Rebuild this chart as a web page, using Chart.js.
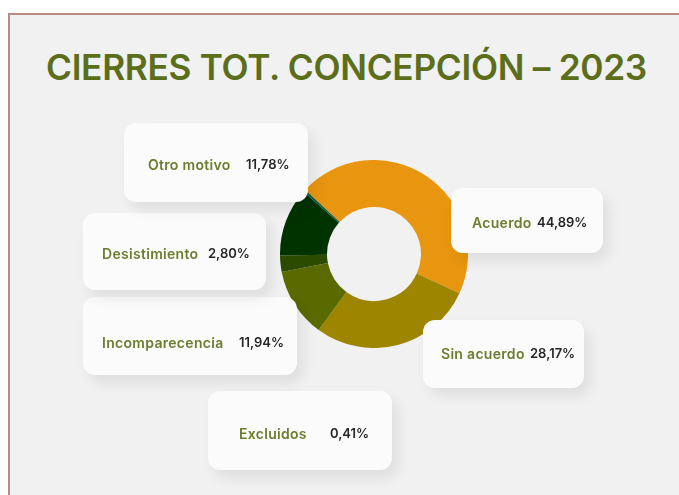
<!DOCTYPE html>
<html>
<head>
<meta charset="utf-8">
<script src="https://cdn.jsdelivr.net/npm/chart.js@4"></script>
<style>
  html,body{margin:0;padding:0;width:679px;height:495px;overflow:hidden;background:#fff;}
  #panel{position:absolute;left:8px;top:13px;width:700px;height:520px;background:#f1f1f1;border:2.5px solid #b98a80;box-sizing:border-box;}
  #title{position:absolute;left:46px;top:46px;font-family:Inter,Roboto,sans-serif;font-weight:600;font-size:35px;color:#5d6e1b;white-space:nowrap;transform-origin:0 0;letter-spacing:-0.3px;}
  #wrap{position:absolute;left:279.5px;top:160px;width:188px;height:188px;}
  .box{position:absolute;background:#fbfbfb;border-radius:12px;box-shadow:6px 8px 14px rgba(0,0,0,0.08);}
  .lab,.val{position:absolute;font-family:Inter,"DejaVu Sans",sans-serif;font-weight:600;white-space:nowrap;transform:translateY(-50%);}
  .lab{color:#6c7d2e;font-size:14px;letter-spacing:0.3px;}
  .val{color:#262626;font-size:13px;}
</style>
</head>
<body>
<div id="panel"></div>
<div id="title">CIERRES TOT. CONCEPCIÓN – 2023</div>
<div id="wrap"><canvas id="c"></canvas></div>
<div id="boxes"></div>
<script>
const categories = ["Acuerdo","Sin acuerdo","Incomparecencia","Desistimiento","Otro motivo","Excluidos"];
const values = [44.89, 28.17, 11.94, 2.80, 11.78, 0.41];
const colors = ["#e8960f","#9d8500","#5a6900","#2b4b00","#003300","#0e5a44"];

// label box layout: [left, top, width, height, labelX, valueX, textY] (page px)
const boxLayout = [
  [451,188,152,65, 472,537,222],
  [423,320,161,68, 441,530,353],
  [83,297,214,78, 102,239,342],
  [83,213,183,77, 102,208,253],
  [124,123,184,79, 148,246,164],
  [208,391,184,79, 239,330,433]
];

// fit title width
const t = document.getElementById('title');
const tw = t.getBoundingClientRect().width;
t.style.transform = 'scaleX(' + (601/tw) + ')';

new Chart(document.getElementById('c'), {
  type: 'doughnut',
  data: { labels: categories, datasets: [{ data: values, backgroundColor: colors, borderWidth: 0 }] },
  options: {
    responsive: true, maintainAspectRatio: false, animation: false,
    cutout: '50%', rotation: -47,
    layout: { padding: 0 },
    plugins: { legend: { display: false }, tooltip: { enabled: false } }
  }
});

const boxes = document.getElementById('boxes');
categories.forEach((c, i) => {
  const [l, tp, w, h, lx, vx, ty] = boxLayout[i];
  const b = document.createElement('div');
  b.className = 'box';
  b.style.cssText = `left:${l}px;top:${tp}px;width:${w}px;height:${h}px;`;
  boxes.appendChild(b);
  const s1 = document.createElement('span');
  s1.className = 'lab'; s1.textContent = c;
  s1.style.left = (lx - l) + 'px'; s1.style.top = (ty - tp) + 'px';
  const s2 = document.createElement('span');
  s2.className = 'val'; s2.textContent = values[i].toFixed(2).replace('.', ',') + '%';
  s2.style.left = (vx - l) + 'px'; s2.style.top = (ty - tp) + 'px';
  b.appendChild(s1); b.appendChild(s2);
});
</script>
</body>
</html>
